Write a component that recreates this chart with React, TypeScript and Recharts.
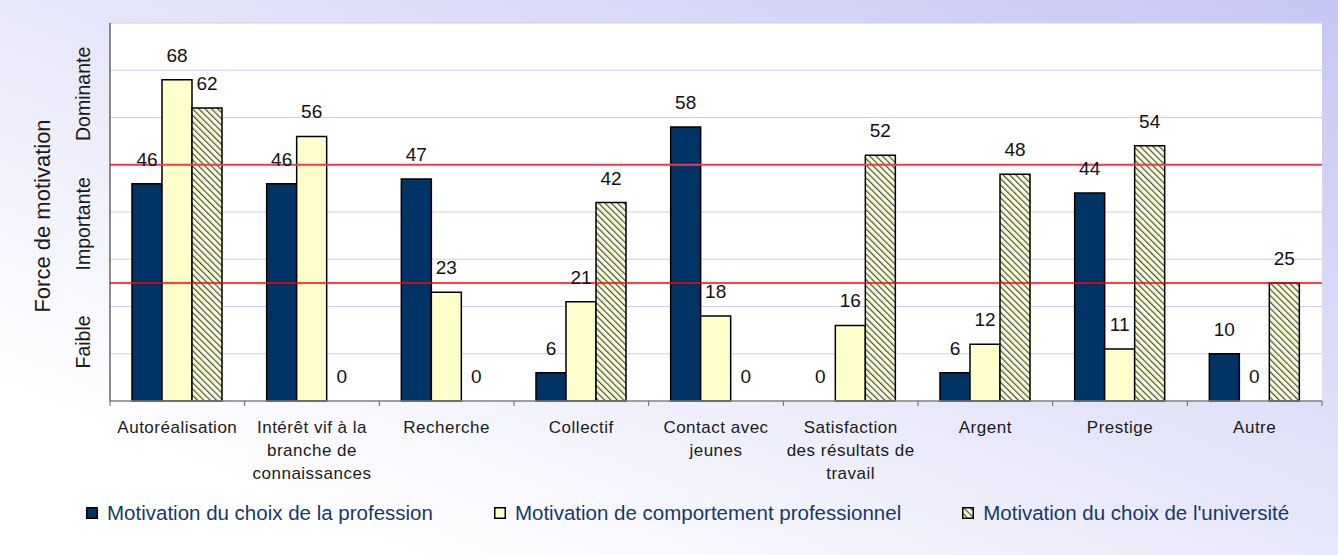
import { BarChart, Bar, XAxis, YAxis, CartesianGrid, ReferenceLine, LabelList, Legend, Rectangle } from 'recharts'

const categories = [
  'Autoréalisation',
  'Intérêt vif à la\nbranche de\nconnaissances',
  'Recherche',
  'Collectif',
  'Contact avec\njeunes',
  'Satisfaction\ndes résultats de\ntravail',
  'Argent',
  'Prestige',
  'Autre',
]
const profession = [46, 46, 47, 6, 58, 0, 6, 44, 10]
const comportement = [68, 56, 23, 21, 18, 16, 12, 11, 0]
const universite = [62, 0, 0, 42, 0, 52, 48, 54, 25]

const seriesNames = [
  'Motivation du choix de la profession',
  'Motivation de comportement professionnel',
  "Motivation du choix de l'université",
]
const levelTicks = [12.5, 37.5, 65]
const levelLabels = ['Faible', 'Importante', 'Dominante']
const thresholds = [25, 50]
const gridValues = [10, 20, 30, 40, 50, 60, 70, 80]

const W = 1338
const H = 555
const PLOT_LEFT = 110
const PLOT_RIGHT = 1322
const PLOT_TOP = 23
const PLOT_BOTTOM = 401
const BAND = (PLOT_RIGHT - PLOT_LEFT) / categories.length
const FONT = '"Liberation Sans", Arial, sans-serif'
const NAVY = '#003366'
const PALE = '#ffffcc'

const data = categories.map((name, i) => ({
  name,
  profession: profession[i],
  comportement: comportement[i],
  universite: universite[i],
}))

function LevelTick({ y, payload }: any) {
  const label = levelLabels[levelTicks.indexOf(payload.value)]
  return (
    <text transform={`translate(${PLOT_LEFT - 27},${y}) rotate(-90)`} textAnchor="middle" dy="0.35em"
      fontSize={19.5} fill="#1a1a1a" fontFamily={FONT}>{label}</text>
  )
}

function CategoryTick({ x, payload }: any) {
  const lines = String(payload.value).split('\n')
  const half = BAND / 2
  const last = payload.index === categories.length - 1
  return (
    <g>
      <line x1={x - half} x2={x - half} y1={PLOT_BOTTOM} y2={PLOT_BOTTOM + 5} stroke="#666" />
      {last && <line x1={x + half} x2={x + half} y1={PLOT_BOTTOM} y2={PLOT_BOTTOM + 5} stroke="#666" />}
      <text textAnchor="middle" fontSize={17} letterSpacing={0.5} fill="#1a1a1a" fontFamily={FONT}>
        {lines.map((l, k) => <tspan key={k} x={x} y={PLOT_BOTTOM + 32 + k * 23}>{l}</tspan>)}
      </text>
    </g>
  )
}

function AxisTitle() {
  return (
    <text transform={`translate(42,${(PLOT_TOP + PLOT_BOTTOM) / 2 + 4}) rotate(-90)`} textAnchor="middle" dy="0.35em"
      fontSize={22} fill="#1a1a1a" fontFamily={FONT}>Force de motivation</text>
  )
}

// value above each bar, zero values included
function ValueLabel(props: any) {
  const { x, y, width, height, value } = props
  if (value == null) return null
  const top = height > 0 ? y : y + height
  return (
    <text x={x + width / 2} y={top - 18} textAnchor="middle" fontSize={19} fill="#111" fontFamily={FONT}>{value}</text>
  )
}

// zero-valued bars keep a tiny rect so their label exists, but draw nothing
function BarShape(props: any) {
  if (Math.abs(props.height) < 0.5) return <g />
  return <Rectangle {...props} />
}

function LegendContent() {
  const fills = [NAVY, PALE, 'url(#hatch)']
  return (
    <div style={{ display: 'flex', alignItems: 'center', height: 26, paddingLeft: 86, gap: 61,
      fontFamily: FONT, fontSize: 20.5, color: '#15396a', whiteSpace: 'nowrap' }}>
      {seriesNames.map((n, i) => (
        <div key={n} style={{ display: 'flex', alignItems: 'center' }}>
          <svg width={12} height={12} style={{ marginRight: 9 }}>
            <rect x={0.75} y={0.75} width={10.5} height={10.5} fill={fills[i]} stroke="#000" strokeWidth={1.5} />
          </svg>
          <span>{n}</span>
        </div>
      ))}
    </div>
  )
}

export default function App() {
  return (
    <div style={{ position: 'absolute', left: 0, top: 0, width: W, height: H,
      background: 'linear-gradient(to bottom left, #c6c6f4 0%, #e4e4fa 45%, #ffffff 85%)' }}>
      <BarChart width={W} height={H} data={data} barGap={0} barSize={30}
        margin={{ top: PLOT_TOP, right: W - PLOT_RIGHT, left: 0, bottom: 48 }}>
        <defs>
          <pattern id="hatch" patternUnits="userSpaceOnUse" width={4.5} height={4.5} patternTransform="rotate(-45)">
            <rect width={4.5} height={4.5} fill={PALE} />
            <line x1={0} y1={0} x2={0} y2={4.5} stroke="#3d4d6b" strokeWidth={2.4} />
          </pattern>
        </defs>
        <CartesianGrid horizontal vertical={false} horizontalValues={gridValues} stroke="#ccccff" fill="#ffffff" />
        <XAxis dataKey="name" interval={0} height={80} tickLine={false} tick={<CategoryTick />}
          axisLine={{ stroke: '#808080', strokeWidth: 1.5 }} />
        <YAxis domain={[0, 80]} ticks={levelTicks} width={PLOT_LEFT} tickLine={false} tick={<LevelTick />}
          axisLine={{ stroke: '#404040', strokeWidth: 1.2 }} label={<AxisTitle />} />
        <Legend verticalAlign="bottom" content={<LegendContent />} wrapperStyle={{ top: 500, left: 0, height: 26 }} />
        <Bar dataKey="profession" name={seriesNames[0]} fill={NAVY} stroke="#000" strokeWidth={1.5}
          minPointSize={0.01} shape={<BarShape />} isAnimationActive={false}>
          <LabelList dataKey="profession" content={<ValueLabel />} />
        </Bar>
        <Bar dataKey="comportement" name={seriesNames[1]} fill={PALE} stroke="#000" strokeWidth={1.5}
          minPointSize={0.01} shape={<BarShape />} isAnimationActive={false}>
          <LabelList dataKey="comportement" content={<ValueLabel />} />
        </Bar>
        <Bar dataKey="universite" name={seriesNames[2]} fill="url(#hatch)" stroke="#000" strokeWidth={1.5}
          minPointSize={0.01} shape={<BarShape />} isAnimationActive={false}>
          <LabelList dataKey="universite" content={<ValueLabel />} />
        </Bar>
        <ReferenceLine y={thresholds[0]} stroke="#ff0000" strokeWidth={1.5} />
        <ReferenceLine y={thresholds[1]} stroke="#ee3b4f" strokeWidth={2} />
      </BarChart>
    </div>
  )
}
